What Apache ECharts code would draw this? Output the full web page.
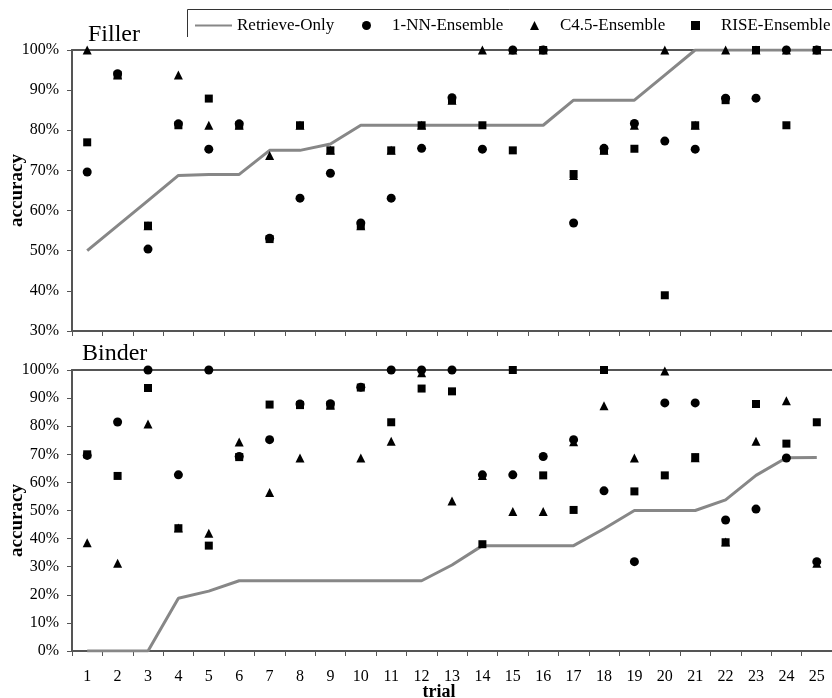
<!DOCTYPE html>
<html>
<head>
<meta charset="utf-8">
<script src="https://cdn.jsdelivr.net/npm/echarts@6/dist/echarts.min.js"></script>
<style>
  html, body { margin: 0; padding: 0; background: #fff; }
  #chart { width: 832px; height: 698px; }
</style>
</head>
<body>
<div id="chart"></div>
<script>
// trial categories
const trials = ['1', '2', '3', '4', '5', '6', '7', '8', '9', '10', '11', '12', '13',
  '14', '15', '16', '17', '18', '19', '20', '21', '22', '23', '24', '25']

// Filler panel (accuracy %)
const retrieveFiller = [50, 56.25, 62.5, 68.75, 69, 69, 75, 75, 76.6, 81.25, 81.25, 81.25, 81.25,
  81.25, 81.25, 81.25, 87.5, 87.5, 87.5, 93.75, 100, 100, 100, 100, 100]
const nnFiller = [69.6, 94.1, 50.4, 81.6, 75.3, 81.6, 53.1, 63.1, 69.3, 56.9, 63.1, 75.5, 88.1,
  75.3, 100, 100, 56.9, 75.5, 81.7, 77.3, 75.3, 88, 88, 100, 100]
const c45Filler = [100, 93.75, 56.25, 93.75, 81.25, 81.25, 73.75, 81.25, 75, 56.25, 75, 81.25, 87.5,
  100, 100, 100, 68.75, 75, 81.25, 100, 81.25, 100, 100, 100, 100]
const riseFiller = [77, 93.75, 56.25, 81.25, 87.9, 81.25, 52.9, 81.25, 75, 56.25, 75, 81.25, 87.5,
  81.25, 75, 100, 69.1, 75, 75.4, 38.9, 81.25, 87.5, 100, 81.25, 100]

// Binder panel (accuracy %)
const retrieveBinder = [0, 0, 0, 18.75, 21.3, 25, 25, 25, 25, 25, 25, 25, 30.6,
  37.5, 37.5, 37.5, 37.5, 43.5, 50, 50, 50, 53.8, 62.5, 68.75, 68.9]
const nnBinder = [69.6, 81.5, 100, 62.7, 100, 69.2, 75.2, 87.9, 88, 93.9, 100, 100, 100,
  62.7, 62.7, 69.2, 75.2, 57, 31.8, 88.3, 88.3, 46.6, 50.5, 68.7, 31.8]
const c45Binder = [38.5, 31.2, 80.8, 43.75, 41.9, 74.4, 56.4, 68.7, 87.5, 68.7, 74.6, 99, 53.4,
  62.5, 49.6, 49.6, 74.5, 87.3, 68.7, 99.6, 68.75, 38.75, 74.6, 89.1, 31.25]
const riseBinder = [70, 62.3, 93.6, 43.7, 37.5, 69, 87.7, 87.5, 87.5, 93.75, 81.4, 93.4, 92.4,
  38, 100, 62.5, 50.2, 100, 56.8, 62.5, 69, 38.7, 87.9, 73.8, 81.4]

const FONT = 'Liberation Serif'
const AXIS = '#555'
const LINE = '#878787'

const chart = echarts.init(document.getElementById('chart'), null, { renderer: 'canvas' })

function xAxisFor(gridIndex, withLabels) {
  return {
    type: 'category',
    gridIndex,
    data: trials,
    boundaryGap: true,
    axisLine: { lineStyle: { color: AXIS, width: 2 } },
    axisTick: { show: true, length: 5, lineStyle: { color: AXIS, width: 1 } },
    axisLabel: {
      show: withLabels, color: '#000', fontFamily: FONT, fontSize: 16, margin: 18, interval: 0,
    },
    name: withLabels ? 'trial' : '',
    nameLocation: 'middle',
    nameGap: 32,
    nameMoveOverlap: false,
    nameTextStyle: {
      color: '#000', fontFamily: FONT, fontSize: 18, fontWeight: 'bold', padding: [0, 26, 0, 0],
    },
  }
}

// plain line along the top of each panel (100% border)
function topBorder(gridIndex) {
  return {
    type: 'category',
    gridIndex,
    data: trials,
    position: 'top',
    axisLine: { lineStyle: { color: AXIS, width: 2 } },
    axisTick: { show: false },
    axisLabel: { show: false },
  }
}

function yAxisFor(gridIndex, min, namePad) {
  return {
    type: 'value',
    gridIndex,
    min,
    max: 100,
    interval: 10,
    axisLine: { show: true, lineStyle: { color: AXIS, width: 2 } },
    axisTick: { show: true, length: 5, lineStyle: { color: AXIS, width: 1 } },
    splitLine: { show: false },
    axisLabel: {
      color: '#000', fontFamily: FONT, fontSize: 16, margin: 13, formatter: '{value}%',
    },
    name: 'accuracy',
    nameLocation: 'middle',
    nameGap: 45,
    nameMoveOverlap: false,
    nameTextStyle: {
      color: '#000', fontFamily: FONT, fontSize: 19, fontWeight: 'bold', padding: namePad,
    },
  }
}

function panelSeries(idx, retrieve, nn, c45, rise) {
  const marker = {
    type: 'scatter',
    xAxisIndex: idx,
    yAxisIndex: idx,
    symbolSize: 9,
    clip: false,
    itemStyle: { color: '#000', opacity: 1 },
  }
  return [
    {
      name: 'Retrieve-Only',
      type: 'line',
      xAxisIndex: idx,
      yAxisIndex: idx,
      symbol: 'none',
      z: 1,
      lineStyle: { color: LINE, width: 3 },
      itemStyle: { color: LINE },
      data: retrieve,
    },
    { ...marker, name: 'C4.5-Ensemble', symbol: 'triangle', z: 2, data: c45 },
    { ...marker, name: 'RISE-Ensemble', symbol: 'rect', symbolSize: 8, z: 3, data: rise },
    { ...marker, name: '1-NN-Ensemble', symbol: 'circle', z: 4, data: nn },
  ]
}

const legendText = { color: '#000', fontFamily: FONT, fontSize: 17 }
function markerLegend(name, left) {
  return {
    data: [name], left, top: 17, padding: 0,
    itemWidth: 9, itemHeight: 9,
    textStyle: { ...legendText, padding: [0, 0, 0, 16] },
  }
}

chart.setOption({
  backgroundColor: '#fff',
  animation: false,
  textStyle: { fontFamily: FONT, color: '#000' },
  title: [
    { text: 'Filler', left: 88, top: 23, padding: 0,
      textStyle: { fontFamily: FONT, fontSize: 24, fontWeight: 'normal', color: '#000' } },
    { text: 'Binder', left: 82, top: 342, padding: 0,
      textStyle: { fontFamily: FONT, fontSize: 24, fontWeight: 'normal', color: '#000' } },
  ],
  legend: [
    {
      data: [{ name: 'Retrieve-Only', icon: 'rect', itemStyle: { color: LINE } }],
      left: 195, top: 17, padding: 0,
      itemWidth: 37, itemHeight: 2,
      textStyle: legendText,
    },
    markerLegend('1-NN-Ensemble', 362),
    markerLegend('C4.5-Ensemble', 530),
    markerLegend('RISE-Ensemble', 691),
  ],
  graphic: [{
    type: 'polyline',
    shape: { points: [[187.5, 37], [187.5, 9.5], [832, 9.5]] },
    style: { stroke: '#333', lineWidth: 1, fill: null },
    silent: true,
  }],
  grid: [
    { left: 72, right: 0, top: 50, height: 281, outerBoundsMode: 'none' },
    { left: 72, right: 0, top: 370, height: 281, outerBoundsMode: 'none' },
  ],
  xAxis: [xAxisFor(0, false), xAxisFor(1, true), topBorder(0), topBorder(1)],
  yAxis: [yAxisFor(0, 30, 0), yAxisFor(1, 0, [0, 20, 0, 0])],
  series: [
    ...panelSeries(0, retrieveFiller, nnFiller, c45Filler, riseFiller),
    ...panelSeries(1, retrieveBinder, nnBinder, c45Binder, riseBinder),
  ],
})
</script>
</body>
</html>
